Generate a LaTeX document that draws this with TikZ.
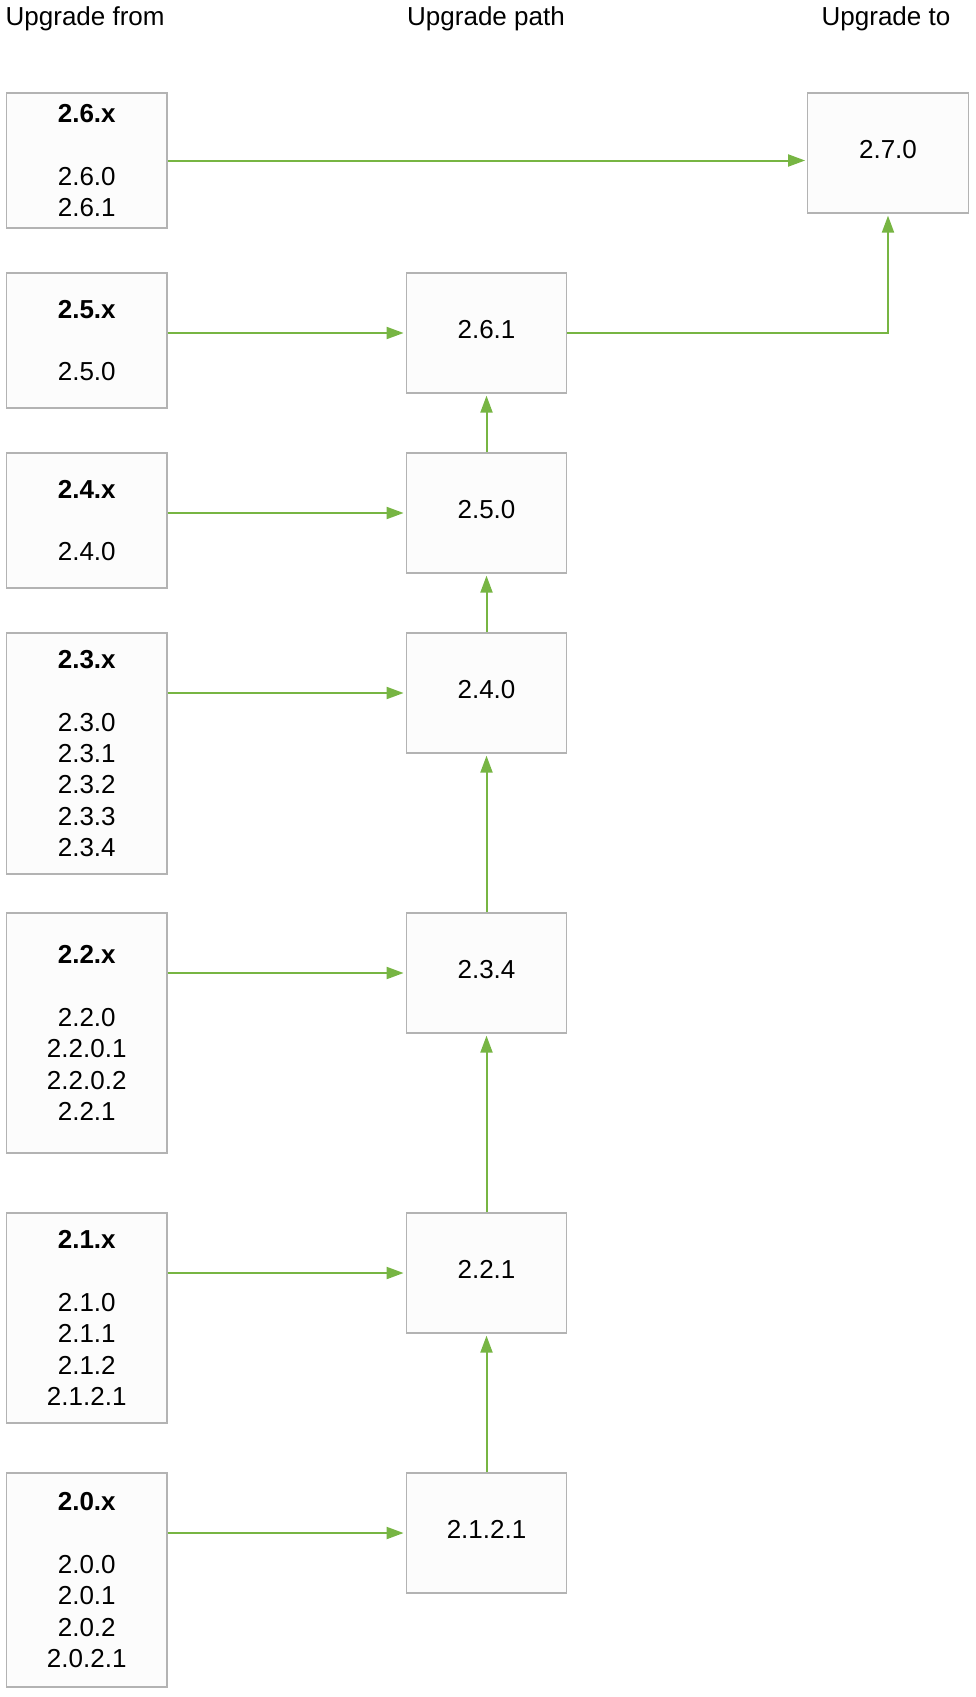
\documentclass[tikz,border=0pt]{standalone}
\usepackage{fontspec}
\setmainfont{Liberation Sans}
\usetikzlibrary{arrows.meta}
\definecolor{boxline}{HTML}{B3B3B3}
\definecolor{boxfill}{HTML}{FCFCFC}
\definecolor{arrowgreen}{HTML}{77B543}
\begin{document}
\begin{tikzpicture}[x=1pt,y=-1pt,
  basefont/.style={font=\fontsize{26}{31.4}\selectfont},
  verbox/.style={draw=boxline, line width=1.3pt, fill=boxfill, inner sep=0pt,
    minimum width=160.5pt, align=center, basefont},
  pathbox/.style={verbox, minimum height=120pt, text depth=8pt},
  header/.style={basefont, inner sep=0pt},
  link/.style={draw=arrowgreen, line width=2pt,
    -{Triangle[length=17pt,width=12pt]}, shorten >=2pt}
]
\useasboundingbox (0,0) rectangle (976,1697);
% headers
\node[header, anchor=west] (h1) at (5.5,18.5) {Upgrade from};
\node[header] (h2) at (486,18.5) {Upgrade path};
\node[header] (h3) at (886,18.5) {Upgrade to};
% upgrade from column
\node[verbox, minimum height=135pt] (f6) at (86.75,160.5) {\textbf{2.6.x}\\[31.4pt]2.6.0\\2.6.1};
\node[verbox, minimum height=135pt] (f5) at (86.75,340.5) {\textbf{2.5.x}\\[31.4pt]2.5.0};
\node[verbox, minimum height=135pt] (f4) at (86.75,520.5) {\textbf{2.4.x}\\[31.4pt]2.4.0};
\node[verbox, minimum height=241pt] (f3) at (86.75,753.5) {\textbf{2.3.x}\\[31.4pt]2.3.0\\2.3.1\\2.3.2\\2.3.3\\2.3.4};
\node[verbox, minimum height=240pt] (f2) at (86.75,1033) {\textbf{2.2.x}\\[31.4pt]2.2.0\\2.2.0.1\\2.2.0.2\\2.2.1};
\node[verbox, minimum height=210pt] (f1) at (86.75,1318) {\textbf{2.1.x}\\[31.4pt]2.1.0\\2.1.1\\2.1.2\\2.1.2.1};
\node[verbox, minimum height=214pt] (f0) at (86.75,1580) {\textbf{2.0.x}\\[31.4pt]2.0.0\\2.0.1\\2.0.2\\2.0.2.1};
% upgrade path column
\node[pathbox] (p6) at (486.5,333) {2.6.1};
\node[pathbox] (p5) at (486.5,513) {2.5.0};
\node[pathbox] (p4) at (486.5,693) {2.4.0};
\node[pathbox] (p3) at (486.5,973) {2.3.4};
\node[pathbox] (p2) at (486.5,1273) {2.2.1};
\node[pathbox] (p1) at (486.5,1533) {2.1.2.1};
% upgrade to
\node[pathbox] (t) at (888,153) {2.7.0};
% connectors
\draw[link] (f6.east) -- (f6.east -| t.west);
\draw[link] (f5.east |- p6.west) -- (p6.west);
\draw[link] (f4.east |- p5.west) -- (p5.west);
\draw[link] (f3.east |- p4.west) -- (p4.west);
\draw[link] (f2.east |- p3.west) -- (p3.west);
\draw[link] (f1.east |- p2.west) -- (p2.west);
\draw[link] (f0.east |- p1.west) -- (p1.west);
\draw[link] (p6.east) -| (t.south);
\draw[link] (p5.north) -- (p6.south);
\draw[link] (p4.north) -- (p5.south);
\draw[link] (p3.north) -- (p4.south);
\draw[link] (p2.north) -- (p3.south);
\draw[link] (p1.north) -- (p2.south);
\end{tikzpicture}
\end{document}
